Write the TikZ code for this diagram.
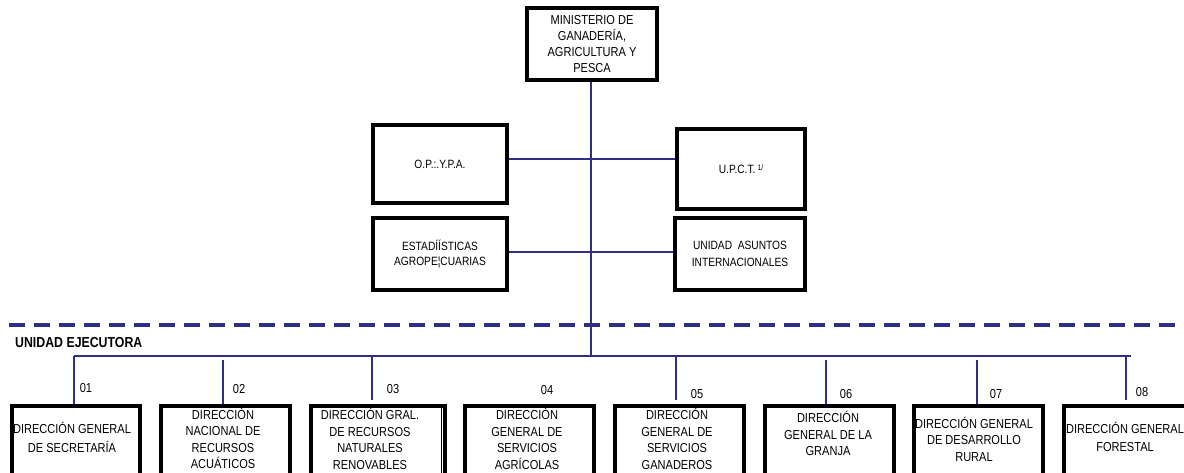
\documentclass[tikz,border=0pt]{standalone}
\usepackage{fontspec}
\setmainfont{Liberation Sans}
\newfontfamily\narrow[FakeStretch=0.85]{Liberation Sans}
\definecolor{navy}{HTML}{2E2E87}
\begin{document}
\begin{tikzpicture}[x=1pt,y=-1pt,
  box/.style={draw=black, line width=3.5pt, rectangle, inner sep=0pt, align=center,
              font=\narrow\fontsize{13}{16}\selectfont},
  midbox/.style={box, font=\narrow\fontsize{12}{15.5}\selectfont},
  lowbox/.style={draw=black, line width=3.5pt, rectangle, inner sep=0pt, anchor=north west, minimum height=100pt},
  txt/.style={align=center, inner sep=0pt, font=\narrow\fontsize{13}{16.5}\selectfont},
  txtwide/.style={align=center, inner sep=0pt, font=\narrow\fontsize{13}{18.5}\selectfont},
  num/.style={inner sep=0pt, font=\narrow\fontsize{13}{15}\selectfont},
  conn/.style={draw=navy, line width=1.3pt},
  dashline/.style={draw=navy, line width=4pt, dash pattern=on 16pt off 9pt}]
\useasboundingbox (0,0) rectangle (1184,472);
\clip (0,0) rectangle (1184,472);
\fill[white] (0,0) rectangle (1184,472);

% upper boxes
\node[box, minimum width=130pt, minimum height=72pt] (min) at (592,44)
  {MINISTERIO DE\\GANADERÍA,\\AGRICULTURA Y\\PESCA};
\node[midbox, minimum width=134pt, minimum height=78pt] (op) at (440,164) {O.P.:.Y.P.A.};
\node[midbox, minimum width=128pt, minimum height=80pt] (up) at (741,169)
  {U.P.C.T.\,\raisebox{3pt}{\fontsize{8}{8}\selectfont 1/}};
\node[midbox, minimum width=134pt, minimum height=72pt] (est) at (440,254)
  {ESTADÍÍSTICAS\\AGROPE¦CUARIAS};
\node[midbox, minimum width=130pt, minimum height=72pt, font=\narrow\fontsize{12}{17}\selectfont] (uai) at (740,254)
  {UNIDAD\ \ ASUNTOS\\INTERNACIONALES};

% junction coordinates
\coordinate (r1) at (591,159);
\coordinate (r2) at (591,252);
\coordinate (bus) at (591,356);
\coordinate (busend) at (1131,356);
\coordinate (dl) at (9,325);
\coordinate (dr) at (1190,325);

\draw[conn] (min.south -| bus) -- (bus);
\draw[conn] (op.east |- r1) -- (up.west |- r1);
\draw[conn] (est.east |- r2) -- (uai.west |- r2);
\draw[dashline] (dl) -- (dr);

\node[anchor=west, inner sep=0pt, font=\narrow\bfseries\fontsize{14.5}{16}\selectfont] (ue) at (15,343) {UNIDAD EJECUTORA};

% lower boxes
\node[lowbox, minimum width=128pt] (b1) at (10,404) {};
\node[lowbox, minimum width=129pt] (b2) at (159,404) {};
\node[lowbox, minimum width=134pt] (b3) at (309,404) {};
\node[lowbox, minimum width=129pt] (b4) at (463,404) {};
\node[lowbox, minimum width=129pt] (b5) at (613,404) {};
\node[lowbox, minimum width=129pt] (b6) at (763,404) {};
\node[lowbox, minimum width=129pt] (b7) at (912,404) {};
\node[lowbox, minimum width=128pt] (b8) at (1062,404) {};
\draw[line width=0.8pt] ([xshift=-5pt]b3.north east) -- ([xshift=-5pt]b3.south east);

\node[txtwide] (t1) at (72,437.5) {DIRECCIÓN GENERAL\\DE SECRETARÍA};
\node[txt] (t2) at (223,438.5) {DIRECCIÓN\\NACIONAL DE\\RECURSOS\\ACUÁTICOS};
\node[txt] (t3) at (370,439) {DIRECCIÓN GRAL.\\DE RECURSOS\\NATURALES\\RENOVABLES};
\node[txt] (t4) at (527,439) {DIRECCIÓN\\GENERAL DE\\SERVICIOS\\AGRÍCOLAS};
\node[txt] (t5) at (677,439) {DIRECCIÓN\\GENERAL DE\\SERVICIOS\\GANADEROS};
\node[txt] (t6) at (828,433.5) {DIRECCIÓN\\GENERAL DE LA\\GRANJA};
\node[txt] (t7) at (974,439) {DIRECCIÓN GENERAL\\DE DESARROLLO\\RURAL};
\node[txtwide] (t8) at (1125,437) {DIRECCIÓN GENERAL\\FORESTAL};

% bus and drops
\coordinate (j1) at (74,356);
\coordinate (j2) at (223,360);
\coordinate (j3) at (372,357);
\coordinate (j5) at (676,356);
\coordinate (j6) at (826,360);
\coordinate (j7) at (977,360);
\coordinate (j8) at (1126,356);
\coordinate (e3) at (372,400);
\coordinate (e5) at (676,400);
\coordinate (e8) at (1126,400);
\draw[conn] (j1) -- (busend);
\draw[conn] (j1) -- (j1 |- b1.north);
\draw[conn] (j2) -- (j2 |- b2.north);
\draw[conn] (j3) -- (e3);
\draw[conn] (j5) -- (e5);
\draw[conn] (j6) -- (j6 |- b6.north);
\draw[conn] (j7) -- (j7 |- b7.north);
\draw[conn] (j8) -- (e8);

\node[num] (n1) at (86,388) {01};
\node[num] (n2) at (239,389) {02};
\node[num] (n3) at (393,389) {03};
\node[num] (n4) at (547,390) {04};
\node[num] (n5) at (697,394) {05};
\node[num] (n6) at (846,394) {06};
\node[num] (n7) at (996,394) {07};
\node[num] (n8) at (1142,392) {08};
\end{tikzpicture}
\end{document}
